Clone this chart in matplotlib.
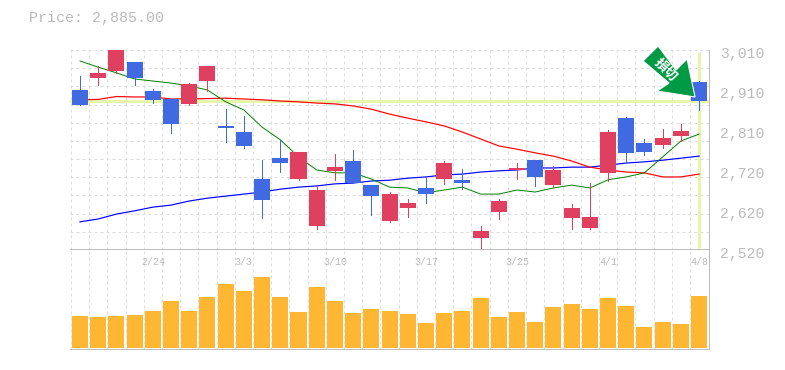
import matplotlib
matplotlib.use("Agg")
import matplotlib.pyplot as plt
from matplotlib.patches import Polygon
from matplotlib.transforms import Affine2D

W, H = 785, 370
GREY = "#bbbbbb"
GRID = "#dddddd"
MONO = ["Liberation Mono", "DejaVu Sans Mono"]

last_price = "2,885.00"

opens = [2912, 2941, 2959, 2981, 2910, 2890, 2878, 2934, 2824, 2809, 2694, 2745,
         2694, 2579, 2714, 2738, 2679, 2591, 2623, 2672, 2694, 2692, 2549, 2613,
         2716, 2741, 2679, 2598, 2574, 2709, 2843, 2782, 2777, 2799, 2932]
closes = [2875, 2954, 3010, 2941, 2888, 2829, 2927, 2971, 2819, 2775, 2643, 2733,
          2760, 2667, 2723, 2684, 2652, 2657, 2635, 2657, 2733, 2684, 2567, 2640,
          2721, 2699, 2716, 2623, 2601, 2809, 2758, 2760, 2794, 2812, 2885]
highs = [2946, 2971, 3010, 2981, 2914, 2890, 2929, 2971, 2865, 2848, 2741, 2790,
         2760, 2677, 2755, 2765, 2679, 2662, 2645, 2696, 2738, 2718, 2579, 2645,
         2733, 2741, 2726, 2633, 2684, 2814, 2846, 2792, 2816, 2829, 2934]
lows = [2875, 2924, 2954, 2924, 2880, 2807, 2875, 2910, 2785, 2770, 2598, 2711,
        2692, 2571, 2692, 2684, 2606, 2589, 2601, 2635, 2682, 2669, 2520, 2596,
        2694, 2677, 2674, 2571, 2571, 2689, 2733, 2753, 2770, 2787, 2863]

ma_short = [2983, 2968, 2954, 2939, 2934, 2929, 2922, 2912, 2883, 2863, 2821, 2790,
            2748, 2716, 2709, 2709, 2694, 2674, 2672, 2660, 2667, 2674, 2657, 2657,
            2667, 2662, 2672, 2679, 2672, 2692, 2699, 2709, 2748, 2787, 2804]
ma_mid = [2888, 2889, 2896, 2895, 2895, 2890, 2890, 2891, 2892, 2890, 2888, 2885,
          2883, 2880, 2878, 2873, 2865, 2853, 2843, 2834, 2824, 2809, 2792, 2775,
          2767, 2758, 2750, 2738, 2723, 2716, 2711, 2709, 2699, 2699, 2706]
ma_long = [2589, 2596, 2608, 2616, 2625, 2630, 2640, 2647, 2652, 2657, 2662, 2669,
           2674, 2677, 2682, 2684, 2689, 2691, 2696, 2699, 2704, 2706, 2711, 2714,
           2716, 2721, 2721, 2723, 2723, 2728, 2733, 2736, 2740, 2745, 2750]

volume = [96, 93, 96, 99, 111, 141, 111, 153, 192, 171, 213, 153, 108, 183, 141, 105,
          117, 111, 102, 75, 105, 111, 150, 93, 108, 78, 123, 132, 117, 150, 126, 63,
          78, 72, 156]

price_ticks = [2520, 2620, 2720, 2810, 2910, 3010]
price_tick_pos = [2520, 2618, 2716, 2814, 2912, 3010]
date_labels = ["2/24", "3/3", "3/10", "3/17", "3/25", "4/1", "4/8"]
date_pos = [4, 9, 14, 19, 24, 29, 34]

# arrow outline as pixel offsets from the tip
arrow = [(-37, -51), (-52, -36), (-26, -14), (-38, -6), (0, 0), (-8, -38), (-19, -27)]


def add_axes(top, bottom):
    return fig.add_axes([70 / W, 1 - bottom / H, 640 / W, (bottom - top) / H])


fig = plt.figure(figsize=(W / 100, H / 100), dpi=100)
ax = add_axes(50, 250)
ax_vol = add_axes(250, 350)

days = range(len(opens))
xgrid = [i - 0.5 for i in range(len(opens))]

ax.set_xlim(-0.55, 34.6)
ax.set_ylim(2520, 3010)
ax_vol.set_xlim(-0.55, 34.6)
ax_vol.set_ylim(-6, 294)

for a in (ax, ax_vol):
    a.patch.set_alpha(0)
    a.set_xticks([])
    a.set_yticks([])
    for s in a.spines.values():
        s.set_visible(False)
    a.vlines(xgrid, *a.get_ylim(), color=GRID, lw=0.72, linestyles=(0, (3, 3)), zorder=1)
    a.axhline(a.get_ylim()[0], color=GREY, lw=1.4, zorder=6)
    a.axvline(34.6, color=GREY, lw=1.4, zorder=6)

step = 490 / 11
for k in range(1, 12):
    ax.axhline(2520 + k * step, color=GRID, lw=0.72, ls=(0, (3, 3)), zorder=1)

# highlight of the last price and day
ax.axhline(2885, color="#e6f5aa", lw=2.2, zorder=2)
ax.vlines(34, 2525, 3005, color="#e6f5aa", lw=2.2, zorder=2)

ax.plot(days, ma_long, color="#0000ff", lw=0.85, zorder=2.5)
ax.plot(days, ma_mid, color="#ff0000", lw=0.85, zorder=2.5)
ax.plot(days, ma_short, color="#008000", lw=0.7, zorder=2.5)

for i in days:
    up = closes[i] >= opens[i]
    c = "#e0405f" if up else "#4169e1"
    ax.vlines(i, lows[i], highs[i], color=c, lw=0.6, zorder=3, antialiased=False)
    ax.bar(i, abs(closes[i] - opens[i]), bottom=min(opens[i], closes[i]), width=0.88,
           color=c, zorder=3)

ax_vol.bar(days, volume, width=0.88, color="#ffb733", zorder=3)

# labels
for v, p in zip(price_ticks, price_tick_pos):
    ax.annotate(f"{v:,}", (1, p), xycoords=("axes fraction", "data"), xytext=(10, -4),
                textcoords="offset pixels", family=MONO, fontsize=10.6, color=GREY,
                va="center", ha="left", annotation_clip=False)
for d, lab in zip(date_pos, date_labels):
    ax_vol.text(d, 0.88, lab, transform=ax_vol.get_xaxis_transform(), family=MONO, fontsize=7.2,
                color=GREY, ha="center", va="center")
fig.text(29 / W, 1 - 18 / H, f"Price: {last_price}", family=MONO, fontsize=10.8, color=GREY,
         va="center", ha="left")

# signal arrow
tip_x, tip_y = ax.transData.transform((34, 2885))
tr = Affine2D().scale(1, -1).translate(tip_x - 4, tip_y + 4)
fig.add_artist(Polygon(arrow, closed=True, facecolor="#009944", edgecolor="white", lw=0.8,
                       transform=tr, zorder=8))
anchor = tr.transform((-29, -27))
fig.text(anchor[0] / W, anchor[1] / H, "損切", family=["Noto Sans CJK JP", "DejaVu Sans"],
         fontsize=9.5, fontweight="bold", color="white", rotation=-45, rotation_mode="anchor",
         ha="center", va="center", zorder=9)

fig.savefig("out.png", dpi=100)
